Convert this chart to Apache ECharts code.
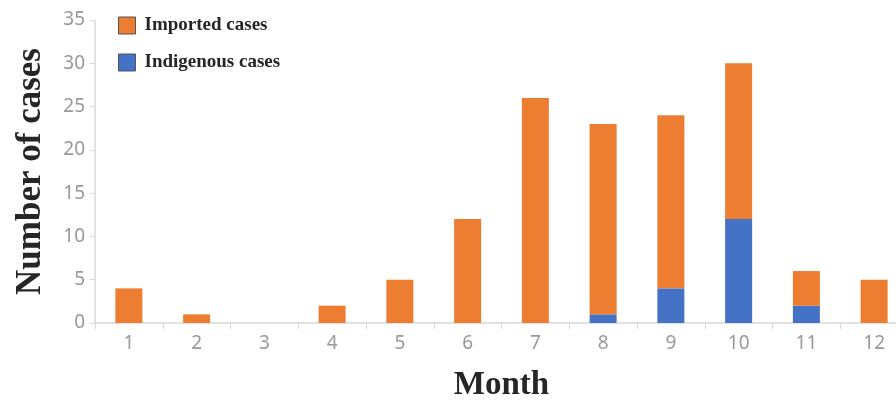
<!DOCTYPE html>
<html>
<head>
<meta charset="utf-8">
<script src="https://cdn.jsdelivr.net/npm/echarts@6/dist/echarts.min.js"></script>
<style>
  html, body { margin: 0; padding: 0; background: #fff; }
  #chart { width: 896px; height: 403px; }
</style>
</head>
<body>
<div id="chart"></div>
<script>
// Monthly case counts
const months = ['1', '2', '3', '4', '5', '6', '7', '8', '9', '10', '11', '12'];
const importedCases = [4, 1, 0, 2, 5, 12, 26, 22, 20, 18, 4, 5];
const indigenousCases = [0, 0, 0, 0, 0, 0, 0, 1, 4, 12, 2, 0];

const chart = echarts.init(document.getElementById('chart'));
const serifBold = { fontFamily: 'Liberation Serif', fontWeight: 'bold', color: '#262626' };

chart.setOption({
  animation: false,
  grid: { left: 95, top: 20, width: 813, height: 303, outerBoundsMode: 'none', containLabel: false },
  legend: {
    orient: 'vertical',
    left: 118,
    top: 16,
    padding: 0,
    icon: 'rect',
    itemWidth: 17,
    itemHeight: 17,
    itemGap: 18,
    data: ['Imported cases', 'Indigenous cases'],
    itemStyle: { borderColor: '#555', borderWidth: 1 },
    textStyle: Object.assign({ fontSize: 19, padding: [0, 0, 0, 4] }, serifBold)
  },
  xAxis: {
    type: 'category',
    data: months,
    name: 'Month',
    nameLocation: 'middle',
    nameGap: 46,
    nameTextStyle: Object.assign({ fontSize: 33 }, serifBold),
    axisLine: { lineStyle: { color: '#d9d9d9', width: 1.5 } },
    axisTick: { show: true, length: 6, lineStyle: { color: '#d9d9d9' } },
    axisLabel: { color: '#999999', fontSize: 19, margin: 11, fontFamily: 'Noto Sans' }
  },
  yAxis: {
    type: 'value',
    min: 0,
    max: 35,
    interval: 5,
    name: 'Number of cases',
    nameLocation: 'middle',
    nameGap: 47,
    nameTextStyle: Object.assign({ fontSize: 35 }, serifBold),
    axisLine: { show: true, lineStyle: { color: '#d9d9d9', width: 1.5 } },
    axisTick: { show: true, length: 5, lineStyle: { color: '#d9d9d9' } },
    splitLine: { show: false },
    axisLabel: { color: '#999999', fontSize: 19, margin: 10, fontFamily: 'Noto Sans' }
  },
  series: [
    {
      name: 'Indigenous cases',
      type: 'bar',
      stack: 'total',
      data: indigenousCases,
      barWidth: 27,
      itemStyle: { color: '#4472C4' }
    },
    {
      name: 'Imported cases',
      type: 'bar',
      stack: 'total',
      data: importedCases,
      barWidth: 27,
      itemStyle: { color: '#ED7D31' }
    }
  ]
});
</script>
</body>
</html>
